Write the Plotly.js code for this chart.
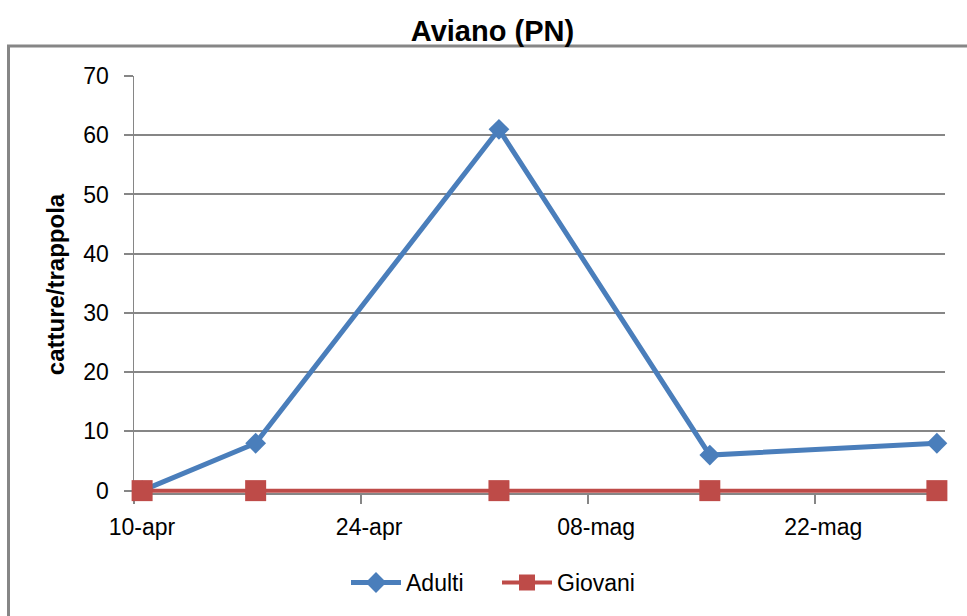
<!DOCTYPE html>
<html>
<head>
<meta charset="utf-8">
<script src="https://cdn.plot.ly/plotly-3.0.1.min.js"></script>
<style>html,body{margin:0;padding:0;background:#fff;}#chart{width:967px;height:616px;}</style>
</head>
<body>
<div id="chart"></div>
<script>
// Data
const dates = ['2013-04-10', '2013-04-17', '2013-05-02', '2013-05-15', '2013-05-29'];
const adulti = [0, 8, 61, 6, 8];
const giovani = [0, 0, 0, 0, 0];
const tickDates = ['2013-04-10', '2013-04-24', '2013-05-08', '2013-05-22'];
const tickLabels = ['10-apr', '24-apr', '08-mag', '22-mag'];

// Excel-style date axis: tick marks sit between days, labels centred on the day
const shiftHours = (d, h) => {
  const t = new Date(d + 'T00:00:00Z').getTime() + h * 3600 * 1000;
  return new Date(t).toISOString().slice(0, 19).replace('T', ' ');
};
const tickVals = tickDates.map(d => shiftHours(d, -12));
const xStart = shiftHours(dates[0], -12);
const xEnd = shiftHours(dates[dates.length - 1], 12);

const FONT = 'Liberation Sans, Arial, sans-serif';
const GRID = '#868686';

// plot area geometry (pixels)
const TOP = 76, LEFT = 134, RIGHT = 945;
const PX_PER_UNIT = 415 / 70;
const Y_MIN = -0.4;              // a hair below 0 so the zero line is not clipped
const PLOT_H = (70 - Y_MIN) * PX_PER_UNIT;
const BOTTOM = TOP + PLOT_H;
const PLOT_W = RIGHT - LEFT;
const px2px = x => (x - LEFT) / PLOT_W;
const py2py = y => (BOTTOM - y) / PLOT_H;

const traces = [
  {
    x: dates, y: adulti, name: 'Adulti', type: 'scatter', mode: 'lines+markers',
    line: {color: '#4A7EBB', width: 5},
    marker: {symbol: 'diamond', size: 16, color: '#4A7EBB'},
    cliponaxis: false
  },
  {
    x: dates, y: giovani, name: 'Giovani', type: 'scatter', mode: 'lines+markers',
    line: {color: '#BE4B48', width: 4},
    marker: {symbol: 'square', size: 21, color: '#BE4B48'},
    cliponaxis: false
  }
];

const layout = {
  width: 967, height: 616,
  margin: {l: LEFT, r: 967 - RIGHT, t: TOP, b: 616 - BOTTOM},
  paper_bgcolor: '#ffffff', plot_bgcolor: '#ffffff',
  font: {family: FONT, size: 23, color: '#000'},
  title: {
    text: '<b>Aviano (PN)</b>',
    font: {family: FONT, size: 29, color: '#000'},
    x: 0.442, xref: 'paper', xanchor: 'center',
    y: 1 - 31 / 616, yref: 'container', yanchor: 'middle'
  },
  xaxis: {
    type: 'date',
    range: [xStart, xEnd],
    tickmode: 'array', tickvals: tickVals, ticktext: tickLabels,
    ticklabelshift: 8,
    ticks: 'outside', ticklen: 9, tickwidth: 1.5, tickcolor: GRID,
    showline: true, linecolor: GRID, linewidth: 2,
    showgrid: false, zeroline: false,
    layer: 'below traces',
    tickfont: {family: FONT, size: 23, color: '#000'},
    ticklabelstandoff: 3
  },
  yaxis: {
    range: [Y_MIN, 70], tickmode: 'linear', dtick: 10, tick0: 0,
    ticks: 'outside', ticklen: 9, tickwidth: 2, tickcolor: GRID,
    showline: true, linecolor: GRID, linewidth: 1.5,
    showgrid: true, gridcolor: GRID, gridwidth: 2,
    zeroline: false,
    layer: 'below traces',
    tickfont: {family: FONT, size: 23, color: '#000'},
    ticklabelstandoff: 10,
    title: {text: '<b>catture/trappola</b>', font: {family: FONT, size: 24, color: '#000'}, standoff: 12}
  },
  legend: {
    orientation: 'h', x: px2px(346), xanchor: 'left', y: py2py(583), yanchor: 'middle',
    entrywidth: 86, entrywidthmode: 'pixels', itemwidth: 50,
    font: {family: FONT, size: 23, color: '#000'},
    bgcolor: 'rgba(0,0,0,0)'
  },
  shapes: [{
    type: 'rect', xref: 'paper', yref: 'paper', layer: 'below',
    x0: px2px(8.5), x1: px2px(1010),
    y0: py2py(660), y1: py2py(46),
    line: {color: GRID, width: 3}, fillcolor: 'rgba(0,0,0,0)'
  }],
  showlegend: true
};

Plotly.newPlot('chart', traces, layout, {displayModeBar: false, staticPlot: true});
</script>
</body>
</html>
